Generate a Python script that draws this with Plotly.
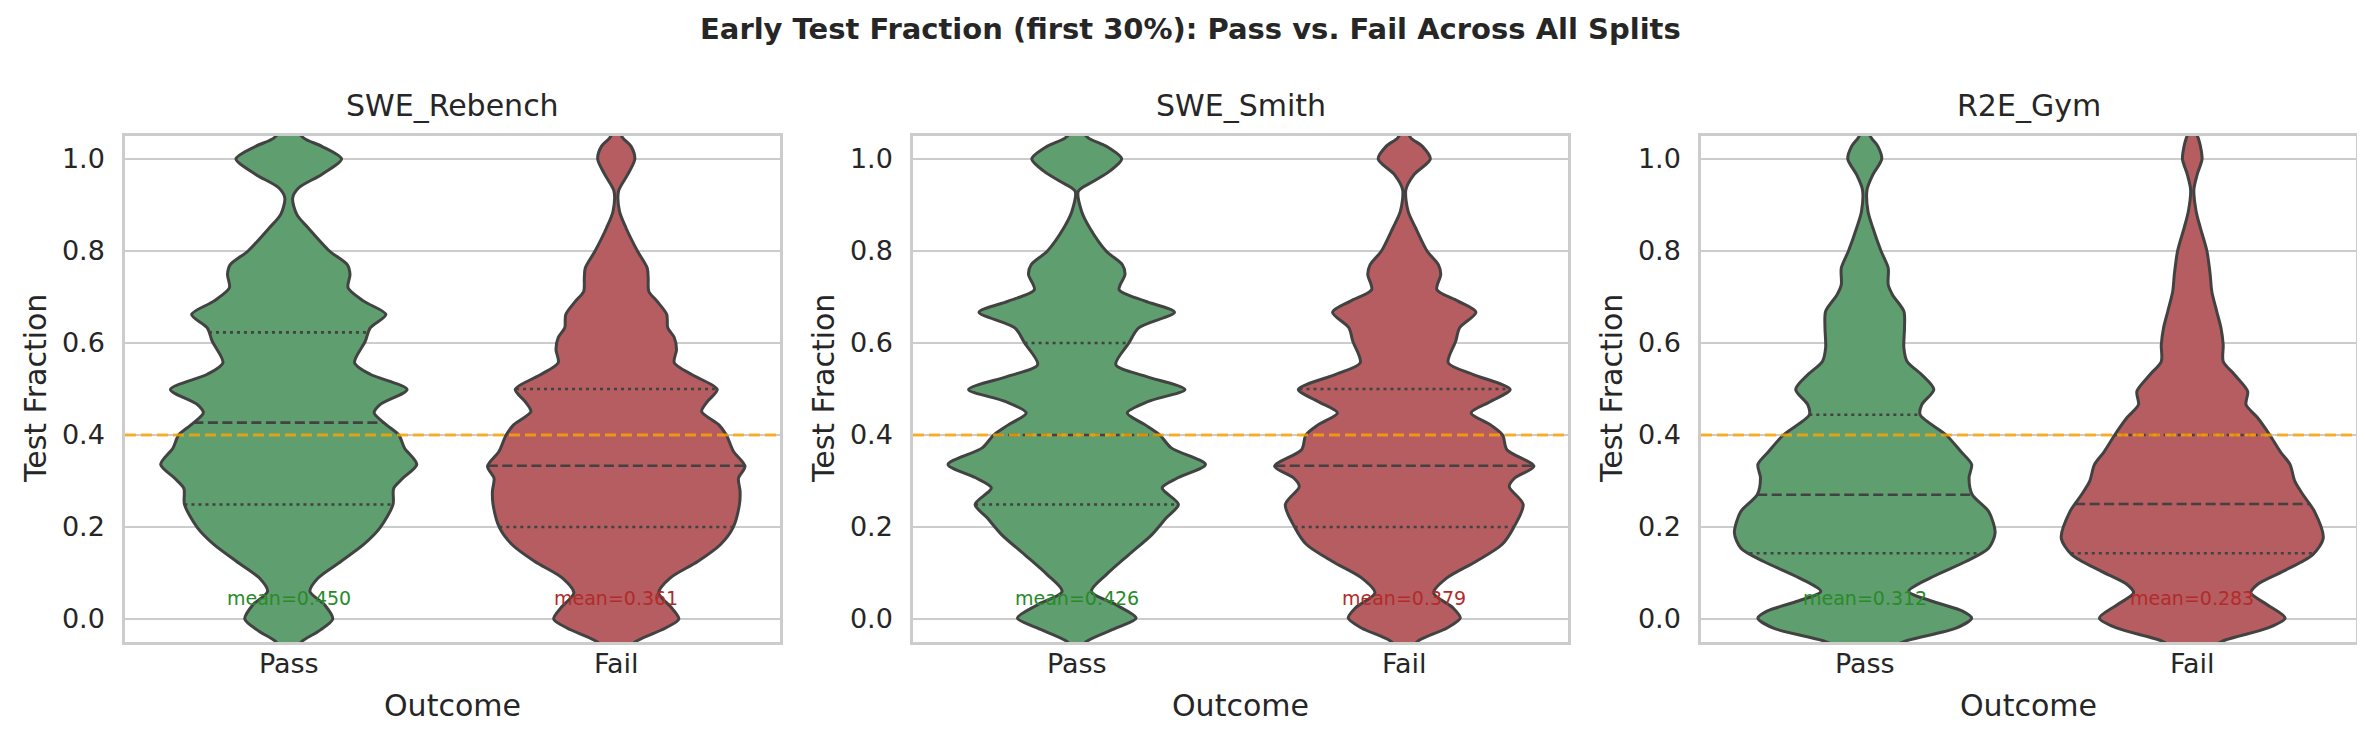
import numpy as np
import plotly.graph_objects as go

# ---------------- data ----------------
SPLITS = ["SWE_Rebench", "SWE_Smith", "R2E_Gym"]
OUTCOMES = ["Pass", "Fail"]
THRESHOLD = 0.4
Y_TICKS = [0.0, 0.2, 0.4, 0.6, 0.8, 1.0]
TITLE = "Early Test Fraction (first 30%): Pass vs. Fail Across All Splits"

# violin density profiles (value grid, relative KDE width)
rebench_pass_y = [-0.1, -0.08, -0.049, -0.027, 0.0, 0.031, 0.06, 0.089, 0.125, 0.162, 0.198, 0.249, 0.284, 0.306,
                  0.336, 0.372, 0.4, 0.422, 0.448, 0.466, 0.499, 0.532, 0.557, 0.604, 0.633, 0.662, 0.691, 0.72,
                  0.749, 0.77, 0.8, 0.85, 0.879, 0.915, 0.937, 0.966, 1.0, 1.028, 1.046, 1.08, 1.1]
rebench_pass_density = [0, 10, 40, 90, 135, 110, 65, 90, 160, 230, 280, 320, 322, 350, 393, 355, 338, 300, 262, 280,
                        363, 250, 202, 235, 250, 298, 230, 182, 188, 180, 125, 60, 25, 12, 30, 100, 162, 100, 45, 10, 0]
rebench_fail_y = [-0.1, -0.08, -0.049, -0.02, 0.0, 0.024, 0.057, 0.089, 0.125, 0.162, 0.198, 0.249, 0.278, 0.306,
                  0.332, 0.364, 0.4, 0.422, 0.451, 0.473, 0.499, 0.532, 0.557, 0.586, 0.612, 0.633, 0.662, 0.691,
                  0.712, 0.741, 0.763, 0.8, 0.85, 0.886, 0.93, 0.966, 1.0, 1.028, 1.046, 1.07, 1.09]
rebench_fail_density = [0, 15, 60, 150, 192, 170, 130, 165, 250, 320, 358, 378, 380, 375, 395, 360, 338, 315, 262, 280,
                        310, 230, 178, 185, 178, 158, 155, 125, 100, 98, 95, 65, 30, 10, 7, 35, 57, 45, 20, 5, 0]
smith_pass_y = [-0.09, -0.07, -0.049, -0.02, 0.002, 0.031, 0.06, 0.096, 0.14, 0.183, 0.22, 0.249, 0.285, 0.307,
                0.336, 0.372, 0.4, 0.422, 0.448, 0.473, 0.499, 0.528, 0.553, 0.6, 0.633, 0.667, 0.691, 0.716,
                0.749, 0.77, 0.8, 0.85, 0.886, 0.93, 0.951, 0.973, 1.0, 1.028, 1.046, 1.07, 1.09]
smith_pass_density = [0, 8, 30, 120, 182, 120, 45, 90, 160, 230, 275, 312, 262, 310, 395, 290, 255, 210, 155, 220,
                      332, 210, 120, 160, 190, 300, 210, 130, 148, 140, 90, 40, 15, 5, 50, 100, 138, 90, 35, 8, 0]
smith_fail_y = [-0.1, -0.08, -0.049, -0.02, 0.002, 0.024, 0.057, 0.089, 0.125, 0.162, 0.198, 0.249, 0.288, 0.307,
                0.332, 0.368, 0.4, 0.422, 0.448, 0.473, 0.499, 0.532, 0.557, 0.604, 0.633, 0.667, 0.691, 0.716,
                0.749, 0.77, 0.8, 0.85, 0.886, 0.933, 0.966, 1.0, 1.028, 1.046, 1.07, 1.09]
smith_fail_density = [0, 10, 40, 130, 172, 150, 90, 130, 220, 300, 335, 365, 322, 340, 398, 315, 302, 265, 205, 265,
                      325, 210, 135, 158, 170, 220, 165, 100, 112, 105, 70, 35, 12, 5, 30, 80, 55, 20, 5, 0]
r2e_pass_y = [-0.11, -0.09, -0.07, -0.049, -0.02, 0.002, 0.017, 0.038, 0.06, 0.089, 0.125, 0.154, 0.187, 0.234,
              0.27, 0.307, 0.336, 0.364, 0.4, 0.444, 0.466, 0.499, 0.531, 0.56, 0.59, 0.633, 0.669, 0.705, 0.727,
              0.763, 0.8, 0.85, 0.886, 0.933, 0.966, 1.0, 1.028, 1.046, 1.07, 1.09]
r2e_pass_density = [0, 20, 60, 120, 280, 328, 300, 210, 135, 200, 310, 380, 400, 380, 330, 320, 328, 295, 250, 170,
                    175, 212, 175, 130, 120, 122, 120, 85, 72, 72, 50, 25, 10, 7, 25, 52, 40, 20, 5, 0]
r2e_fail_y = [-0.1, -0.09, -0.07, -0.049, -0.02, 0.002, 0.031, 0.057, 0.075, 0.104, 0.14, 0.176, 0.234, 0.27,
              0.299, 0.336, 0.364, 0.4, 0.438, 0.466, 0.495, 0.531, 0.56, 0.596, 0.633, 0.669, 0.712, 0.749, 0.8,
              0.85, 0.886, 0.933, 0.966, 1.0, 1.028, 1.046, 1.07, 1.09]
r2e_fail_density = [0, 10, 45, 90, 230, 285, 230, 180, 200, 280, 370, 402, 375, 340, 315, 300, 270, 238, 200, 165,
                    170, 130, 95, 95, 88, 75, 60, 55, 45, 25, 12, 5, 15, 30, 25, 18, 5, 0]

# quartiles (Q1, median, Q3) and means
rebench_pass_quartiles = [0.249, 0.427, 0.623]
rebench_fail_quartiles = [0.200, 0.333, 0.500]
smith_pass_quartiles = [0.249, 0.400, 0.600]
smith_fail_quartiles = [0.200, 0.333, 0.500]
r2e_pass_quartiles = [0.143, 0.270, 0.444]
r2e_fail_quartiles = [0.143, 0.250, 0.400]
rebench_means = [0.450, 0.361]
smith_means = [0.426, 0.379]
r2e_means = [0.312, 0.283]

# ---------------- assembly ----------------
profiles = {
    "SWE_Rebench": [(rebench_pass_y, rebench_pass_density, rebench_pass_quartiles),
                    (rebench_fail_y, rebench_fail_density, rebench_fail_quartiles)],
    "SWE_Smith": [(smith_pass_y, smith_pass_density, smith_pass_quartiles),
                  (smith_fail_y, smith_fail_density, smith_fail_quartiles)],
    "R2E_Gym": [(r2e_pass_y, r2e_pass_density, r2e_pass_quartiles),
                (r2e_fail_y, r2e_fail_density, r2e_fail_quartiles)],
}
means = {"SWE_Rebench": rebench_means, "SWE_Smith": smith_means, "R2E_Gym": r2e_means}

FILL = ["#5f9e6e", "#b55d60"]
TEXT_COL = ["#2a8a2a", "#b22b2b"]
EDGE = "#424242"
FONT = "DejaVu Sans"
INK = "#262626"

W, H = 2365, 732
ML, MR, MT, MB = 117, 17, 128, 98
PW = W - ML - MR
PH = H - MT - MB
panel_w = 655
panel_left = [0, 788, 1576]

dmax = max(max(d) for s in SPLITS for (_, d, _) in profiles[s])
scale = 0.4 / dmax

fig = go.Figure()
annotations = []
shapes = []


def paper_y(pix):
    return (MT + PH - pix) / PH


for i, split in enumerate(SPLITS):
    sfx = "" if i == 0 else str(i + 1)
    xa, ya = "x" + sfx, "y" + sfx
    for j, (yv, dv, qs) in enumerate(profiles[split]):
        ys = np.array(yv, dtype=float)
        hw = np.array(dv, dtype=float) * scale
        px = np.concatenate([j + hw, (j - hw)[::-1][1:-1]])
        py = np.concatenate([ys, ys[::-1][1:-1]])
        fig.add_trace(go.Scatter(
            x=px, y=py, mode="lines", fill="toself", fillcolor=FILL[j],
            line=dict(color=EDGE, width=3, shape="spline", smoothing=0.8),
            xaxis=xa, yaxis=ya, hoverinfo="skip", showlegend=False))
        for q, dash in zip(qs, ["3px,4px", "10px,4.5px", "3px,4px"]):
            w = float(np.interp(q, ys, hw))
            fig.add_trace(go.Scatter(
                x=[j - w, j + w], y=[q, q], mode="lines",
                line=dict(color=EDGE, width=2.6, dash=dash),
                xaxis=xa, yaxis=ya, hoverinfo="skip", showlegend=False))
        annotations.append(dict(
            x=j, y=0.046, xref=xa, yref=ya, text=f"mean={means[split][j]:.3f}",
            showarrow=False, xanchor="center", yanchor="middle",
            font=dict(family=FONT, size=19, color=TEXT_COL[j])))

    shapes.append(dict(type="line", xref=xa + " domain", yref=ya, x0=0, x1=1,
                       y0=THRESHOLD, y1=THRESHOLD, layer="above",
                       line=dict(color="rgba(255,165,0,0.8)", width=3, dash="11px,5px")))

    d0 = panel_left[i] / PW
    d1 = (panel_left[i] + panel_w) / PW
    common = dict(showline=True, mirror=True, linecolor="#cccccc", linewidth=2.5,
                  zeroline=False, ticks="", tickfont=dict(family=FONT, size=27, color=INK))
    fig.layout["xaxis" + sfx] = dict(
        domain=[d0, min(d1, 1.0)], anchor=ya, range=[-0.5, 1.5],
        tickvals=[0, 1], ticktext=OUTCOMES, showgrid=False, ticklabelstandoff=-4, **common)
    fig.layout["yaxis" + sfx] = dict(
        domain=[0, 1], anchor=xa, range=[-0.05, 1.05], tickvals=Y_TICKS, tickformat=".1f",
        showgrid=True, gridcolor="#cccccc", gridwidth=2, ticklabelstandoff=12, **common)

    cx = (panel_left[i] + panel_w / 2) / PW
    annotations.append(dict(x=cx, y=paper_y(98), xref="paper", yref="paper", text=split,
                            showarrow=False, xanchor="center", yanchor="middle",
                            font=dict(family=FONT, size=30, color=INK)))
    annotations.append(dict(x=cx, y=paper_y(697), xref="paper", yref="paper",
                            text="Outcome", showarrow=False, xanchor="center", yanchor="middle",
                            font=dict(family=FONT, size=30, color=INK)))
    annotations.append(dict(x=(panel_left[i] - 90) / PW, y=0.5, xref="paper", yref="paper",
                            text="Test Fraction", showarrow=False, textangle=-90,
                            xanchor="center", yanchor="middle",
                            font=dict(family=FONT, size=30, color=INK)))

annotations.append(dict(x=(W / 2 - ML) / PW, y=paper_y(21), xref="paper", yref="paper",
                        text="<b>" + TITLE + "</b>", showarrow=False, xanchor="center", yanchor="middle",
                        font=dict(family=FONT, size=29, color=INK)))

fig.update_layout(
    width=W, height=H, margin=dict(l=ML, r=MR, t=MT, b=MB),
    paper_bgcolor="white", plot_bgcolor="white",
    annotations=annotations, shapes=shapes, showlegend=False,
    font=dict(family=FONT, color=INK),
)

fig.write_html("out.html")
